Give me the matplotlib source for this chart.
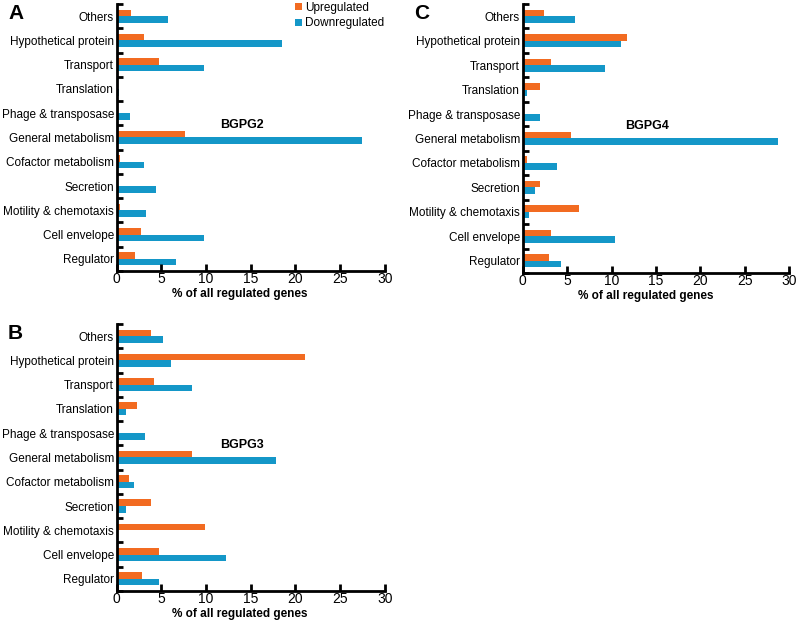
import matplotlib.pyplot as plt
import numpy as np

plt.rcParams['font.family'] = ['Liberation Sans', 'DejaVu Sans']

categories = ['Others', 'Hypothetical protein', 'Transport', 'Translation',
              'Phage & transposase', 'General metabolism', 'Cofactor metabolism',
              'Secretion', 'Motility & chemotaxis', 'Cell envelope', 'Regulator']

# BGPG2 (A)
up_a = [1.6, 3.0, 4.7, 0.0, 0.1, 7.6, 0.4, 0.15, 0.4, 2.7, 2.0]
down_a = [5.7, 18.5, 9.8, 0.2, 1.5, 27.4, 3.0, 4.4, 3.3, 9.8, 6.6]
# BGPG3 (B)
up_b = [3.8, 21.1, 4.2, 2.3, 0.0, 8.4, 1.4, 3.8, 9.9, 4.7, 2.8]
down_b = [5.2, 6.1, 8.4, 1.0, 3.2, 17.8, 1.9, 1.0, 0.0, 12.2, 4.7]
# BGPG4 (C)
up_c = [2.4, 11.7, 3.2, 1.9, 0.0, 5.4, 0.5, 1.9, 6.3, 3.2, 3.0]
down_c = [5.9, 11.1, 9.3, 0.5, 1.9, 28.7, 3.8, 1.35, 0.75, 10.4, 4.3]

orange = '#F26B21'
blue = '#1497C8'

fig = plt.figure(figsize=(8, 6.23), dpi=100)

panels = [
    ('A', 'BGPG2', up_a, down_a, [0.146, 0.565, 0.335, 0.4286]),
    ('B', 'BGPG3', up_b, down_b, [0.146, 0.0514, 0.335, 0.4286]),
    ('C', 'BGPG4', up_c, down_c, [0.6535, 0.5618, 0.333, 0.4318]),
]

y = np.arange(len(categories))
h = 0.27

for letter, name, up, down, rect in panels:
    ax = fig.add_axes(rect)
    ax.barh(y - h / 2, up, height=h, color=orange, label='Upregulated')
    ax.barh(y + h / 2, down, height=h, color=blue, label='Downregulated')
    ax.set_xlim(0, 30)
    ax.set_ylim(len(categories) - 0.5, -0.5)
    ax.set_yticks(y)
    ax.set_yticklabels(categories, fontsize=8.5)
    ax.set_yticks(np.arange(-0.5, len(categories), 1), minor=True)
    ax.tick_params(axis='y', which='major', length=0, pad=2)
    ax.tick_params(axis='y', which='minor', direction='in', length=4, width=2)
    ax.set_xticks(np.arange(0, 31, 5))
    ax.tick_params(axis='x', direction='in', length=5, width=2, labelsize=10, pad=1)
    for s in ['top', 'right']:
        ax.spines[s].set_visible(False)
    for s in ['left', 'bottom']:
        ax.spines[s].set_linewidth(2)
    ax.set_xlabel('% of all regulated genes', fontsize=8.5, fontweight='bold')
    ax.xaxis.set_label_coords(0.46, -0.062, transform=ax.transAxes)
    ax.xaxis.label.set_va('top')
    ax.text(14, 4.5, name, fontsize=9, fontweight='bold', ha='center', va='center')
    fig.text(rect[0] - 0.136, rect[1] + rect[3] - 0.015, letter, fontsize=15,
             fontweight='bold', ha='left', va='center')
    if letter == 'A':
        ax.legend(loc='upper right', bbox_to_anchor=(1.02, 1.03), frameon=False,
                  fontsize=8.5, handlelength=0.6, handleheight=0.6,
                  handletextpad=0.3, labelspacing=0.3, borderpad=0)

fig.savefig('out.png', dpi=100)
